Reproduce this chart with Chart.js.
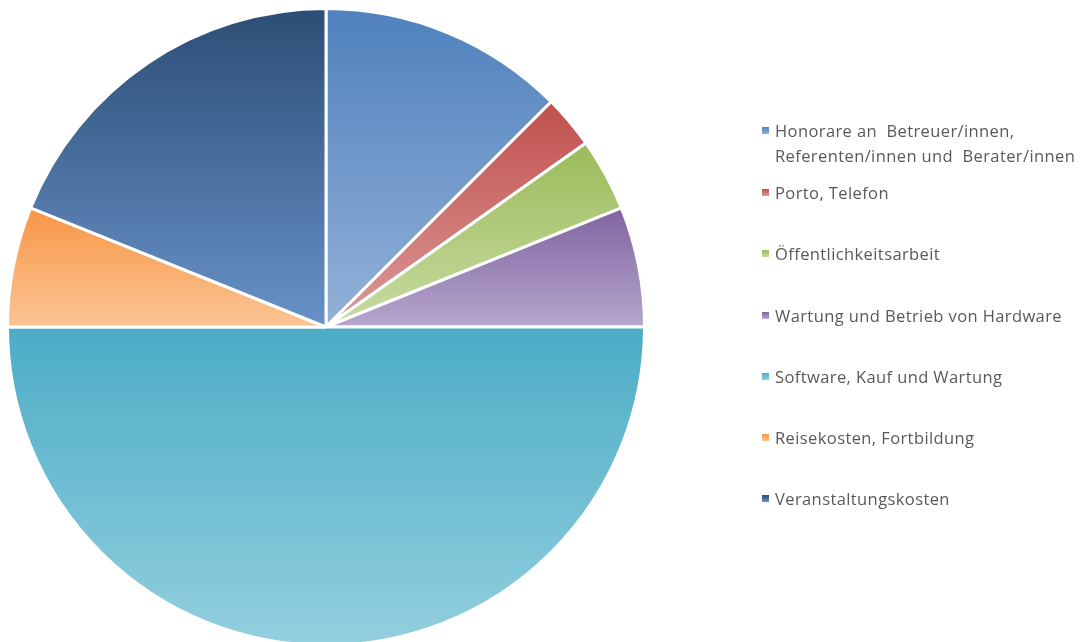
<!DOCTYPE html>
<html>
<head>
<meta charset="utf-8">
<script src="https://cdn.jsdelivr.net/npm/chart.js@4.4.1/dist/chart.umd.min.js"></script>
<style>
  html, body { margin: 0; padding: 0; background: #fff; overflow: hidden; }
  #wrap { position: relative; width: 1082px; height: 660px; }
  #legend { position: absolute; left: 760px; top: 0; font-family: "Open Sans", sans-serif; font-size: 16.5px; letter-spacing: 0.4px; color: #595959; }
  .item { position: absolute; left: 0; white-space: pre; line-height: 25px; }
  .item i { position: absolute; left: 2px; top: 9px; width: 7px; height: 7px; }
  .item span { display: block; margin-left: 15px; }
</style>
</head>
<body>
<div id="wrap">
  <canvas id="myChart" width="1082" height="660"></canvas>
  <div id="legend"></div>
</div>
<script>
const categories = [
  "Honorare an  Betreuer/innen,\nReferenten/innen und  Berater/innen",
  "Porto, Telefon",
  "Öffentlichkeitsarbeit",
  "Wartung und Betrieb von Hardware",
  "Software, Kauf und Wartung",
  "Reisekosten, Fortbildung",
  "Veranstaltungskosten"
];
const values = [12.5, 2.7, 3.7, 6.1, 50, 6.1, 18.9];
const topColors = ["#4f81bd", "#c0504d", "#9bbb59", "#8064a2", "#4bacc6", "#f79646", "#2c4d75"];
const bottomColors = ["#93b1d8", "#dc9a98", "#c8dba3", "#b6a6cc", "#93cfdf", "#fbc494", "#6892c8"];
const legendTops = [118, 180, 241, 303, 364, 425, 486];

const total = values.reduce((a, b) => a + b, 0);

function sliceGradient(c) {
  const chart = c.chart;
  const area = chart.chartArea;
  if (!area) return topColors[c.dataIndex];
  const i = c.dataIndex;
  const r = chart.getDatasetMeta(0).controller.outerRadius || Math.min(area.width, area.height) / 2;
  const cy = (area.top + area.bottom) / 2;
  let before = 0;
  for (let k = 0; k < i; k++) before += values[k];
  const a0 = -Math.PI / 2 + 2 * Math.PI * before / total;
  const a1 = a0 + 2 * Math.PI * values[i] / total;
  const ys = [cy, cy + r * Math.sin(a0), cy + r * Math.sin(a1)];
  if (a0 < Math.PI / 2 && a1 > Math.PI / 2) ys.push(cy + r);
  if (a0 < 1.5 * Math.PI && a1 > 1.5 * Math.PI) ys.push(cy - r);
  if (a0 <= -Math.PI / 2 + 1e-6) ys.push(cy - r);
  const y0 = Math.min(...ys), y1 = Math.max(...ys);
  const g = chart.ctx.createLinearGradient(0, y0, 0, y1);
  g.addColorStop(0, topColors[i]);
  g.addColorStop(1, bottomColors[i]);
  return g;
}

const ctx = document.getElementById("myChart").getContext("2d");
const myChart = new Chart(ctx, {
  type: "pie",
  data: {
    labels: categories,
    datasets: [
      {
        data: values,
        backgroundColor: sliceGradient,
        borderColor: "#ffffff",
        borderWidth: 3,
        hoverOffset: 0,
      },
    ],
  },
  options: {
    responsive: false,
    animation: false,
    layout: { padding: { left: 6, top: 7, right: 436, bottom: 13 } },
    plugins: {
      legend: { display: false },
      tooltip: { enabled: false },
    },
  },
});

// legend on the right, as html so the first entry can wrap
const legend = document.getElementById("legend");
categories.forEach(function (label, i) {
  const item = document.createElement("div");
  item.className = "item";
  item.style.top = legendTops[i] + "px";
  const box = document.createElement("i");
  box.style.background = "linear-gradient(" + topColors[i] + ", " + bottomColors[i] + ")";
  item.appendChild(box);
  label.split("\n").forEach(function (line) {
    const s = document.createElement("span");
    s.textContent = line;
    item.appendChild(s);
  });
  legend.appendChild(item);
});
</script>
</body>
</html>
